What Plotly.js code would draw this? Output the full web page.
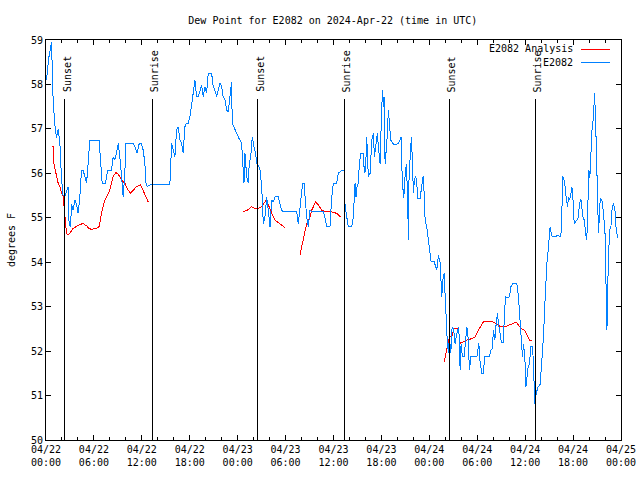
<!DOCTYPE html>
<html>
<head>
<meta charset="utf-8">
<script src="https://cdn.plot.ly/plotly-3.0.1.min.js"></script>
<style>html,body{margin:0;padding:0;background:#fff;}#chart{width:640px;height:480px;}
#chart path{shape-rendering:crispEdges;}</style>
</head>
<body>
<div id="chart"></div>
<script>
// Time axis: hours after 2024-04-22 00:00 UTC
var startDate = "2024-04-22";
var endDate = "2024-04-25";

// Observed dew point (E2082)
var obsHours = [0.06,0.16,0.35,0.69,0.89,1.10,1.32,1.52,1.73,1.94,2.14,2.36,2.77,2.89,3.07,3.20,3.40,3.61,3.82,4.02,4.14,4.24,4.45,4.65,4.86,5.08,5.28,5.49,6.65,6.83,7.03,7.46,7.71,8.21,8.41,8.62,8.83,9.04,9.25,9.46,9.66,9.87,10.00,10.91,11.12,11.42,11.67,11.94,12.17,12.38,12.51,12.67,13.01,15.51,15.60,15.73,15.93,16.14,16.35,16.55,16.77,16.98,17.18,17.39,17.61,17.81,18.02,18.23,18.43,18.65,18.86,19.06,19.27,19.49,19.69,19.90,20.11,20.31,20.74,20.94,21.15,21.37,21.57,21.78,21.99,22.19,22.41,22.62,22.82,23.03,23.24,23.32,23.66,24.07,24.50,24.70,24.79,24.91,25.13,25.33,25.45,25.63,25.83,26.04,26.25,26.38,26.58,26.79,27.01,27.21,27.42,27.63,27.83,28.05,28.26,28.46,28.67,29.09,29.30,29.51,29.71,31.39,31.59,31.72,31.89,32.14,32.31,32.43,32.64,32.85,33.06,33.27,34.72,34.94,35.15,35.56,35.78,35.98,36.40,36.60,37.03,37.32,37.44,37.66,37.86,38.28,38.48,38.70,38.82,38.95,39.11,39.24,39.41,39.74,39.86,40.01,40.16,40.36,40.58,40.79,40.99,41.12,41.29,41.49,41.62,41.83,42.04,42.17,42.24,42.33,42.46,42.67,42.87,43.00,43.17,43.42,43.71,44.12,44.46,44.62,44.80,44.96,45.13,45.28,45.38,45.46,45.63,45.75,45.88,46.00,46.13,46.30,46.43,46.55,46.84,47.06,47.22,47.38,47.47,47.68,47.88,48.09,48.22,48.60,48.93,49.14,49.35,49.56,49.68,49.85,49.97,50.10,50.26,50.39,50.51,50.69,50.81,50.94,51.10,51.23,51.35,51.52,51.69,51.86,51.98,52.14,52.36,52.52,52.70,52.86,53.02,53.20,53.95,54.20,54.37,54.58,54.78,54.91,55.53,55.70,55.87,56.03,56.20,56.37,56.53,56.71,56.87,57.03,57.28,57.41,57.58,57.81,58.03,58.21,58.46,58.96,59.16,59.37,59.54,59.66,59.79,59.96,60.09,60.21,60.38,60.54,60.71,60.94,61.13,61.22,61.38,61.63,61.88,62.09,62.29,62.51,62.72,62.92,63.05,63.13,63.32,63.51,64.14,64.47,64.60,64.72,64.86,65.01,65.14,65.30,65.43,65.58,65.73,65.85,65.99,66.14,66.48,66.64,66.81,66.98,67.11,67.23,67.39,67.51,67.68,67.73,67.85,67.98,68.10,68.23,68.39,68.56,68.68,68.81,68.93,69.06,69.18,69.40,69.61,69.81,70.03,70.15,70.24,70.34,70.44,70.56,70.74,70.90,71.06,71.24,71.40,71.62];
var obsValues = [58.1,58.3,58.6,58.96,57.65,57.1,56.8,57.0,56.7,55.9,55.5,55.47,55.7,54.87,54.8,55.3,55.17,55.4,55.3,55.1,55.25,55.47,56.07,56.07,55.93,55.78,56.23,56.75,56.75,56.37,55.78,55.78,56.07,56.07,56.37,56.3,56.45,56.67,56.37,55.93,55.47,56.0,56.67,56.67,56.6,56.45,56.67,56.67,56.52,56.23,55.78,55.7,55.74,55.74,56.37,56.67,56.52,56.37,56.97,57.05,56.75,56.67,56.45,57.05,57.13,57.13,57.27,57.5,57.8,58.1,57.72,57.72,57.87,57.99,57.72,57.95,57.8,58.25,58.25,57.95,57.87,57.72,57.87,58.03,57.95,57.72,57.65,57.42,57.38,57.72,58.06,57.13,56.97,56.82,56.67,56.15,55.78,56.45,55.93,55.78,56.23,56.37,56.82,56.6,56.45,56.23,56.15,56.1,55.7,54.87,55.02,55.47,55.17,54.8,55.4,55.35,55.47,55.47,55.32,55.17,55.14,55.14,54.87,55.1,55.4,55.78,55.78,55.47,55.02,54.8,55.17,55.14,55.14,55.0,54.8,54.8,55.47,55.78,55.78,56.0,56.07,56.07,55.3,55.02,54.8,54.8,55.02,55.78,55.47,55.7,55.78,56.22,56.45,56.45,56.0,56.07,56.82,55.93,56.0,56.75,56.9,56.37,56.67,56.9,56.6,56.22,57.5,57.87,57.5,57.72,56.22,56.67,57.42,57.05,56.75,56.67,56.64,56.67,56.81,55.81,55.44,55.93,56.22,55.44,54.5,55.93,56.41,56.82,56.3,55.55,55.85,55.93,55.78,55.44,55.44,55.7,55.93,55.47,54.95,54.8,54.5,54.25,54.01,54.01,53.83,54.16,54.0,53.22,53.6,53.75,53.22,52.7,52.17,51.95,52.32,51.95,52.47,52.55,52.4,52.17,52.3,52.47,52.55,51.57,52.17,51.87,51.87,52.25,52.55,52.3,51.57,51.87,51.87,52.17,51.72,51.5,51.49,51.87,51.87,52.02,52.05,52.47,52.25,52.62,52.85,52.55,52.32,52.2,52.2,52.92,53.22,53.2,53.22,53.45,53.52,53.52,53.22,52.62,52.02,51.87,52.17,51.87,51.2,51.42,51.65,51.72,52.1,52.1,51.12,50.82,51.05,51.2,51.25,51.72,52.32,53.22,53.98,54.35,54.57,54.8,54.6,54.57,54.6,54.57,55.17,55.93,55.85,55.7,55.45,55.25,55.47,55.4,55.55,55.7,55.4,54.87,54.95,55.0,55.32,55.43,55.2,55.02,54.95,54.8,54.5,54.57,55.47,56.07,55.9,56.37,57.05,57.27,57.8,57.27,56.15,55.02,54.65,55.43,55.4,55.1,54.57,53.22,52.47,53.5,54.05,54.72,54.8,55.25,55.32,55.17,54.72,54.55];

// Analysis dew point (E2082 Analysis); null marks a gap
var anaHours = [0.69,0.89,0.98,1.23,1.52,1.73,1.94,2.14,2.36,2.48,2.57,2.77,2.98,3.40,3.82,4.24,4.65,5.08,5.36,5.70,5.99,6.33,6.65,6.95,7.37,7.58,7.99,8.21,8.41,8.75,9.06,9.46,9.87,10.29,10.59,10.91,11.34,11.84,12.17,12.51,12.79,
  18.0,
  24.70,25.13,25.75,26.17,26.58,27.01,27.42,27.63,27.83,28.05,28.26,28.46,28.67,29.09,29.51,29.92,
  30.8,
  31.80,32.22,32.43,32.64,32.85,33.06,33.27,33.47,33.77,34.10,34.52,34.94,35.56,35.98,36.40,36.90,
  43.0,
  49.85,50.10,50.26,50.51,50.81,51.10,51.64,51.86,52.27,52.70,53.32,53.74,54.15,54.57,54.78,55.40,55.96,56.45,56.95,57.49,58.11,58.53,58.86,59.16,59.46,59.91,60.21,60.54,60.84];
var anaValues = [56.6,56.6,56.22,56.0,55.78,55.7,55.55,55.5,55.1,54.87,54.65,54.61,54.65,54.76,54.8,54.85,54.87,54.82,54.76,54.74,54.75,54.76,54.8,55.1,55.4,55.47,55.62,55.78,55.93,56.02,55.98,55.85,55.78,55.62,55.55,55.62,55.7,55.74,55.62,55.47,55.36,
  null,
  55.14,55.16,55.25,55.21,55.21,55.25,55.36,55.4,55.3,55.17,55.1,55.02,54.95,54.89,54.84,54.78,
  null,
  54.16,54.5,54.72,54.87,54.95,55.02,55.17,55.25,55.36,55.29,55.17,55.14,55.14,55.12,55.1,55.02,
  null,
  51.75,51.95,52.14,52.32,52.32,52.51,52.51,52.17,52.21,52.25,52.28,52.32,52.47,52.62,52.66,52.67,52.66,52.6,52.55,52.55,52.59,52.62,52.65,52.59,52.51,52.47,52.36,52.25,52.23];

// Sun events
var sunHours = [2.36, 13.30, 26.50, 37.36, 50.51, 61.29];
var sunLabels = ["Sunset", "Sunrise", "Sunset", "Sunrise", "Sunset", "Sunrise"];
var sunLineTop = 57.67;

var seriesNames = ["E2082 Analysis", "E2082"];
var seriesColors = ["rgb(255,0,0)", "rgb(0,128,255)"];

var t0 = Date.UTC(2024, 3, 22);
function toTime(h) { return t0 + h * 3600000; }

var FONT = "DejaVu Sans Mono, Liberation Mono, monospace";

var traces = [
  { x: anaHours.map(toTime), y: anaValues, type: "scatter", mode: "lines",
    name: seriesNames[0], line: { color: seriesColors[0], width: 1 }, connectgaps: false, showlegend: false },
  { x: obsHours.map(toTime), y: obsValues, type: "scatter", mode: "lines",
    name: seriesNames[1], line: { color: seriesColors[1], width: 1, shape: "linear" }, showlegend: false }
];

var shapes = [];
var annotations = [];
sunHours.forEach(function (h, i) {
  shapes.push({ type: "line", xref: "x", yref: "y", x0: toTime(h), x1: toTime(h), y0: 50, y1: sunLineTop,
    line: { color: "black", width: 1 } });
  annotations.push({ xref: "x", yref: "y", x: toTime(h), y: sunLineTop, yshift: 5, xshift: 2,
    text: sunLabels[i], showarrow: false, textangle: -90, xanchor: "center", yanchor: "bottom",
    font: { family: FONT, size: 10, color: "black" } });
});

// Legend (gnuplot style: text then line sample)
var plotL = 46, plotW = 575, plotT = 40, plotH = 400;
function px(x) { return (x - plotL) / plotW; }
function py(y) { return (plotT + plotH - y) / plotH; }
var legendY = [49, 62];
seriesNames.forEach(function (n, i) {
  annotations.push({ xref: "paper", yref: "paper", x: px(575), y: py(legendY[i]), text: n, showarrow: false,
    xanchor: "right", yanchor: "middle", font: { family: FONT, size: 10, color: "black" } });
  shapes.push({ type: "line", xref: "paper", yref: "paper", x0: px(581), x1: px(610), y0: py(legendY[i]), y1: py(legendY[i]),
    line: { color: seriesColors[i], width: 1 } });
});

var layout = {
  width: 640, height: 480,
  margin: { l: 46, r: 19, t: 40, b: 40, pad: 0 },
  paper_bgcolor: "white", plot_bgcolor: "white",
  font: { family: FONT, size: 10, color: "black" },
  title: { text: "Dew Point for E2082 on 2024-Apr-22 (time in UTC)", x: 0.52, xref: "container",
    y: 1 - 20 / 480, yref: "container", yanchor: "middle", xanchor: "center",
    font: { family: FONT, size: 10, color: "black" } },
  xaxis: {
    type: "date", range: [toTime(0), toTime(72)], autorange: false,
    tickmode: "linear", tick0: toTime(0), dtick: 6 * 3600000,
    tickformat: "%m/%d<br>%H:%M",
    ticks: "inside", ticklen: 5, tickwidth: 1, tickcolor: "black",
    minor: { dtick: 2 * 3600000, tick0: toTime(0), ticks: "inside", ticklen: 3, tickcolor: "black", showgrid: false },
    showline: true, linecolor: "black", linewidth: 1, mirror: "ticks",
    showgrid: false, zeroline: false, automargin: false,
    tickfont: { family: FONT, size: 10, color: "black" }
  },
  yaxis: {
    range: [50, 59], autorange: false, dtick: 1, tick0: 50,
    ticks: "inside", ticklen: 5, tickwidth: 1, tickcolor: "black",
    showline: true, linecolor: "black", linewidth: 1, mirror: "ticks",
    showgrid: false, zeroline: false, automargin: false,
    tickfont: { family: FONT, size: 10, color: "black" },
    title: { text: "degrees F", standoff: 13, font: { family: FONT, size: 10, color: "black" } }
  },
  shapes: shapes,
  annotations: annotations,
  showlegend: false
};

Plotly.newPlot("chart", traces, layout, { staticPlot: true, displayModeBar: false });
</script>
</body>
</html>
